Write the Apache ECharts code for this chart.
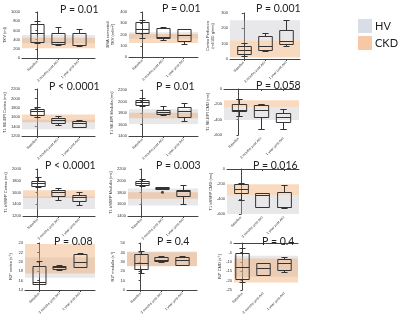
<!DOCTYPE html>
<html><head><meta charset="utf-8">
<script src="https://cdn.jsdelivr.net/npm/echarts@6/dist/echarts.min.js"></script>
<style>html,body{margin:0;padding:0;background:#fff}#c{width:400px;height:326px}</style>
</head><body><div id="c"></div>
<script>
// ---------- DATA ----------
const categories = ['Baseline', '3 months post AKI', '1 year post AKI'];
// boxes: [min, q1, median, q3, max] for Baseline, 3 months, 1 year
const tkvBoxes        = [[325,340,537,739,811],[290,300,355,550,667],[265,272,290,540,620]];
const bsaTkvBoxes     = [[167,210,245,310,330],[152,167,175,262,268],[117,146,195,245,247]];
const perfusionBoxes  = [[20,31,58,87,102],[55,60,87,153,171],[82,98,115,191,253]];
const t1EpiCortex     = [[1606,1641,1728,1780,1824],[1439,1476,1548,1585,1620],[1389,1402,1476,1526,1532]];
const t1EpiMedulla    = [[1922,1939,1986,2026,2056],[1770,1777,1817,1858,1922],[1666,1725,1840,1899,1969]];
const t1EpiCmd        = [[-347,-293,-271,-191,-124],[-524,-369,-280,-213,-191],[-516,-436,-369,-316,-257]];
const t1SsfpCortex    = [[1699,1711,1759,1801,1861],[1470,1542,1608,1651,1669],[1392,1452,1518,1560,1608]];
const t1SsfpMedulla   = [[1911,1929,1960,1989,2032],[1862,1864,1880,1893,1895],[1610,1743,1821,1851,1924]];
const t1SsfpMedullaOutliers = [[1, 1803]];
const t1SsfpCmd       = [[-413,-322,-262,-194,-190],[-505,-500,-345,-325,-317],[-514,-510,-500,-300,-218]];
const r2Cortex        = [[15.2,15.3,15.8,19.2,20.2],[18.3,18.4,18.8,19.2,19.4],[18.8,18.9,20.0,21.6,21.8]];
const r2Medulla       = [[18.4,21.9,28.9,38.7,41.2],[30.3,30.6,31.7,35.3,35.9],[26.4,27.1,32.4,35.3,36.6]];
const r2Cmd           = [[-20.7,-19,-12.5,-5.4,-2.8],[-17.1,-16.9,-13.5,-10.7,-10.5],[-15.2,-14.3,-10.9,-8.6,-7.7]];

// reference ranges [low, high]
const hvRanges  = [[320,500],[165,220],[120,253],[1346,1548],[1609,1864],[-405,-236],[1319,1530],[1580,1869],[-600,-354],[16.6,20.9],[25.5,41],[-18,-6.8]];
const ckdRanges = [[210,440],[125,205],[9,120],[1491,1657],[1708,1805],[-236,-147],[1506,1639],[1695,1803],[-354,-204],[17.5,23.8],[25.3,40.1],[-21,-8.2]];

// y tick ranges [min, max, step]
const yTicks = [[0,1000,200],[0,400,100],[0,300,100],[1200,2200,200],[1400,2200,200],[-600,0,200],
                [1200,2000,200],[1400,2200,200],[-600,0,200],[14,24,2],[0,50,10],[-25,0,5]];
const yNames = ['TKV (ml)','BSA corrected\nTKV (ml/m²)','Cortex Perfusion\n(ml/100 g/min)',
  'T1 SE-EPI Cortex (ms)','T1 SE-EPI Medulla (ms)','T1 SE-EPI CMD (ms)',
  'T1 bSSFP Cortex (ms)','T1 bSSFP Medulla (ms)','T1 bSSFP CMD (ms)',
  'R2* cortex (s⁻¹)','R2* medulla (s⁻¹)','R2* CMD (s⁻¹)'];
const pValues = ['P = 0.01','P = 0.01','P = 0.001','P < 0.0001','P = 0.01','P = 0.058',
                 'P < 0.0001','P = 0.003','P = 0.016','P = 0.08','P = 0.4','P = 0.4'];
const panelBoxes = [tkvBoxes,bsaTkvBoxes,perfusionBoxes,t1EpiCortex,t1EpiMedulla,t1EpiCmd,
                    t1SsfpCortex,t1SsfpMedulla,t1SsfpCmd,r2Cortex,r2Medulla,r2Cmd];

// ---------- LAYOUT ----------
// [left, top, width, height, xmin, xmax, nameGap]
const layout = [
  [22,12,73,46,-0.75,2.8,13],[129,12,69,45,-0.65,2.7,14],[230,13,70,46,-0.65,2.65,15],
  [22,89,73,47,-0.7,2.75,14],[129,90,69,46,-0.65,2.7,14],[224,89,75,46,-0.65,2.7,14],
  [23,169,72,47,-0.7,2.75,14],[128,169,70,47,-0.65,2.7,14],[227,169,72,45,-0.65,2.7,14],
  [25,243,70,47,-0.7,2.75,12],[127,243,70,47,-0.65,2.7,12],[234,243,64,47,-0.4,2.65,12]
];
// P label [left, centerY]
const pPos = [[60,11],[162,10],[256,10],[49,88],[156,88],[256,87],[45,167],[156,167],[253,167],[54,243],[157,243],[262,243]];

const HV_BAND = 'rgba(190,192,198,0.36)';
const CKD_BAND = 'rgba(238,168,108,0.42)';
const AX = '#444';

function renderBox(params, api){
  const x = api.value(0);
  const vals = [1,2,3,4,5].map(i => api.value(i));
  const pts = vals.map(v => api.coord([x, v]));
  const cx = Math.round(pts[0][0]) + 0.5;
  const bw = api.size([0.64, 0])[0];
  const cw = bw * 0.45;
  const [pMin,pQ1,pMed,pQ3,pMax] = pts.map(p => Math.round(p[1]) + 0.5);
  const st = {stroke:'#333', lineWidth:1, fill:null};
  return {type:'group', children:[
    {type:'line', shape:{x1:cx,y1:pQ3,x2:cx,y2:pMax}, style:st},
    {type:'line', shape:{x1:cx-cw/2,y1:pMax,x2:cx+cw/2,y2:pMax}, style:st},
    {type:'line', shape:{x1:cx,y1:pQ1,x2:cx,y2:pMin}, style:st},
    {type:'line', shape:{x1:cx-cw/2,y1:pMin,x2:cx+cw/2,y2:pMin}, style:st},
    {type:'rect', shape:{x:cx-bw/2,y:pQ3,width:bw,height:pQ1-pQ3}, style:{stroke:'#333',lineWidth:1,fill:'none'}},
    {type:'line', shape:{x1:cx-bw/2,y1:pMed,x2:cx+bw/2,y2:pMed}, style:st}
  ]};
}

const grids = [], xAxes = [], yAxes = [], series = [], titles = [];
layout.forEach((L, i) => {
  const [left, top, width, height, xmin, xmax, nameGap] = L;
  grids.push({left, top, width, height});
  xAxes.push({
    type:'value', gridIndex:i, min:xmin, max:xmax,
    axisLine:{show:true, lineStyle:{color:AX, width:1}},
    axisTick:{show:true, customValues:[0,1,2], length:2, lineStyle:{color:AX}},
    axisLabel:{customValues:[0,1,2], formatter:v => categories[Math.round(v)], rotate:45,
               fontSize:3.5, margin:3, color:'#333', fontFamily:'Liberation Sans'},
    splitLine:{show:false}
  });
  const [ymin, ymax, step] = yTicks[i];
  yAxes.push({
    type:'value', gridIndex:i, min:ymin, max:ymax, interval:step,
    name:yNames[i], nameLocation:'middle', nameGap,
    nameTextStyle:{fontSize:4, color:'#333', fontFamily:'Liberation Sans', lineHeight:5},
    axisLine:{show:true, lineStyle:{color:AX, width:1}},
    axisTick:{show:true, length:2, lineStyle:{color:AX}},
    axisLabel:{fontSize:4, margin:2, color:'#333', fontFamily:'Liberation Sans', formatter:v => String(v)},
    splitLine:{show:false}
  });
  series.push({
    type:'line', xAxisIndex:i, yAxisIndex:i, data:[], z:1, silent:true,
    markArea:{silent:true, itemStyle:{color:HV_BAND}, data:[[{xAxis:xmin, yAxis:hvRanges[i][0]},{xAxis:xmax, yAxis:hvRanges[i][1]}]]}
  });
  series.push({
    type:'line', xAxisIndex:i, yAxisIndex:i, data:[], z:2, silent:true,
    markArea:{silent:true, itemStyle:{color:CKD_BAND}, data:[[{xAxis:xmin, yAxis:ckdRanges[i][0]},{xAxis:xmax, yAxis:ckdRanges[i][1]}]]}
  });
  series.push({
    type:'custom', xAxisIndex:i, yAxisIndex:i, z:5, silent:true,
    renderItem:renderBox,
    encode:{x:0, y:[1,2,3,4,5]},
    data: panelBoxes[i].map((b, k) => [k, ...b])
  });
  titles.push({
    text:pValues[i], left:pPos[i][0], top:pPos[i][1]-7, padding:0,
    textStyle:{fontSize:10.5, fontWeight:'normal', color:'#222', fontFamily:'Lato'}
  });
});
series.push({
  type:'scatter', xAxisIndex:7, yAxisIndex:7, z:6, symbolSize:3, silent:true,
  itemStyle:{color:'#222'}, data:t1SsfpMedullaOutliers
});
// legend carrier series
series.push({name:'HV', type:'bar', xAxisIndex:0, yAxisIndex:0, data:[], itemStyle:{color:'#d9dde6'}});
series.push({name:'CKD', type:'bar', xAxisIndex:0, yAxisIndex:0, data:[], itemStyle:{color:'#f7c8a5'}});

const chart = echarts.init(document.getElementById('c'), null, {renderer:'canvas'});
chart.setOption({
  animation:false,
  backgroundColor:'#fff',
  title:titles,
  legend:{
    orient:'vertical', left:358, top:19, itemWidth:14, itemHeight:14, itemGap:3, padding:0,
    icon:'rect', selectedMode:false,
    textStyle:{fontSize:11, color:'#222', fontFamily:'Lato', padding:[0,0,0,-2]},
    data:['HV','CKD']
  },
  grid:grids, xAxis:xAxes, yAxis:yAxes, series
});
</script></body></html>
